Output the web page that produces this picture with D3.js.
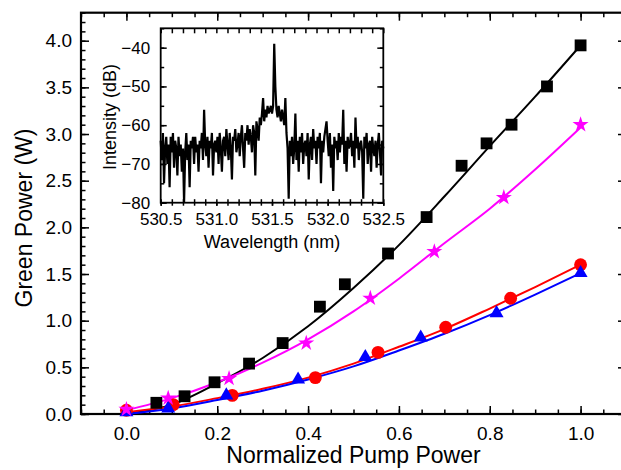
<!DOCTYPE html>
<html>
<head>
<meta charset="utf-8">
<script src="https://cdn.jsdelivr.net/npm/d3@7"></script>
<style>
  body { margin: 0; background: #fff; }
  svg { display: block; font-family: "Liberation Sans", Arial, sans-serif; }
  .tick text { font-family: "Liberation Sans", Arial, sans-serif; }
</style>
</head>
<body>
<svg id="chart" width="621" height="470"></svg>
<script>
// main plot: measured points
const blackX = [0.066, 0.128, 0.194, 0.270, 0.344, 0.426, 0.481, 0.576, 0.661, 0.738, 0.793, 0.848, 0.926, 1.0];
const blackY = [0.12, 0.19, 0.34, 0.54, 0.76, 1.15, 1.39, 1.72, 2.11, 2.66, 2.90, 3.10, 3.51, 3.95];
const magentaX = [0.0, 0.092, 0.226, 0.396, 0.537, 0.678, 0.831, 1.0];
const magentaY = [0.05, 0.17, 0.38, 0.76, 1.24, 1.74, 2.32, 3.10];
const redX = [0.0, 0.103, 0.233, 0.416, 0.554, 0.703, 0.846, 1.0];
const redY = [0.04, 0.10, 0.20, 0.39, 0.66, 0.93, 1.24, 1.60];
const blueX = [0.0, 0.092, 0.22, 0.378, 0.526, 0.648, 0.815, 1.0];
const blueY = [0.02, 0.06, 0.20, 0.37, 0.61, 0.82, 1.08, 1.51];

// fitted curves
const fitX = [0, 0.1, 0.2, 0.3, 0.4, 0.5, 0.6, 0.7, 0.8, 0.9, 1.0];
const blackFit = [0.0, 0.1, 0.33, 0.6, 0.94, 1.35, 1.81, 2.33, 2.87, 3.4, 3.95];
const magentaFit = [0.04, 0.17, 0.34, 0.55, 0.8, 1.1, 1.45, 1.83, 2.2, 2.62, 3.07];
const redFit = [0.02, 0.08, 0.17, 0.27, 0.39, 0.54, 0.72, 0.91, 1.13, 1.36, 1.60];
const blueFit = [0.0, 0.06, 0.15, 0.25, 0.37, 0.51, 0.68, 0.86, 1.06, 1.28, 1.51];

const xTicks = [0.0, 0.2, 0.4, 0.6, 0.8, 1.0];
const yTicks = [0.0, 0.5, 1.0, 1.5, 2.0, 2.5, 3.0, 3.5, 4.0];

// inset spectrum, 530.50 .. 532.50 nm in 0.01 nm steps
const specStart = 530.5, specStep = 0.01;
const specDb = [
  -64,-69,-62,-75,-66,-63,-70,-65,-76,-63,
  -67,-62,-71,-64,-66,-73,-63,-68,-65,-72,
  -66,-80,-67,-62,-69,-65,-76,-64,-66,-63,
  -70,-63,-67,-65,-72,-64,-66,-62,-69,-56,
  -65,-68,-63,-71,-64,-66,-62,-73,-65,-64,
  -67,-63,-70,-62,-66,-72,-64,-63,-68,-61,
  -65,-69,-62,-66,-74,-63,-64,-61,-67,-65,
  -62,-68,-63,-60,-66,-71,-62,-64,-60,-65,
  -61,-63,-67,-60,-62,-73,-59,-61,-64,-58,
  -60,-57,-53,-59,-56,-58,-55,-57,-56,-55,
  -57,-55,-39,-50,-56,-58,-55,-57,-59,-56,
  -58,-60,-53,-62,-66,-79,-64,-68,-63,-70,
  -66,-57,-69,-64,-72,-63,-67,-62,-70,-65,
  -64,-68,-62,-74,-65,-63,-69,-61,-66,-64,
  -70,-63,-66,-62,-75,-64,-67,-63,-61,-59,
  -64,-68,-62,-71,-65,-77,-63,-66,-64,-69,
  -62,-67,-63,-65,-56,-70,-64,-72,-63,-66,
  -65,-62,-68,-64,-71,-58,-66,-63,-69,-65,
  -64,-67,-79,-63,-66,-62,-70,-65,-64,-72,
  -63,-66,-68,-64,-71,-65,-62,-67,-73,-64,
  -66
];
const inXTicks = [530.5, 531.0, 531.5, 532.0, 532.5];
const inYTicks = [-80, -70, -60, -50, -40];

const svg = d3.select("#chart");

const x = d3.scaleLinear().domain([-0.1, 1.1]).range([81, 626]);
const y = d3.scaleLinear().domain([0, 4.3]).range([414, 12.7]);

const xMinor = d3.range(-0.1, 1.101, 0.05).map(v => +v.toFixed(2));
const yMinor = d3.range(0, 4.301, 0.1).map(v => +v.toFixed(1));

function clean(g) { g.select(".domain").remove(); g.selectAll("line").attr("stroke", "#000").attr("stroke-width", 1.5); }

// main axes: minor + major ticks on all four sides, pointing inward
svg.append("g").attr("transform", "translate(0,414)")
   .call(d3.axisBottom(x).tickValues(xMinor).tickSize(-4.5).tickFormat("")).call(clean);
svg.append("g").attr("transform", "translate(0,12.7)")
   .call(d3.axisTop(x).tickValues(xMinor).tickSize(-4.5).tickFormat("")).call(clean);
svg.append("g").attr("transform", "translate(81,0)")
   .call(d3.axisLeft(y).tickValues(yMinor).tickSize(-4.5).tickFormat("")).call(clean);
svg.append("g").attr("transform", "translate(626,0)")
   .call(d3.axisRight(y).tickValues(yMinor).tickSize(-4.5).tickFormat("")).call(clean);

svg.append("g").attr("transform", "translate(0,414)")
   .call(d3.axisBottom(x).tickValues(xTicks).tickSize(-8).tickPadding(12.5).tickFormat(d3.format(".1f")))
   .call(clean).selectAll("text").attr("font-size", 19).attr("fill", "#000");
svg.append("g").attr("transform", "translate(0,12.7)")
   .call(d3.axisTop(x).tickValues(xTicks).tickSize(-8).tickFormat("")).call(clean);
svg.append("g").attr("transform", "translate(81,0)")
   .call(d3.axisLeft(y).tickValues(yTicks).tickSize(-8).tickPadding(9).tickFormat(d3.format(".1f")))
   .call(clean).selectAll("text").attr("font-size", 19).attr("fill", "#000");
svg.append("g").attr("transform", "translate(626,0)")
   .call(d3.axisRight(y).tickValues(yTicks).tickSize(-8).tickFormat("")).call(clean);

svg.append("rect").attr("x", 81).attr("y", 12.7).attr("width", 626 - 81).attr("height", 414 - 12.7)
   .attr("fill", "none").attr("stroke", "#000").attr("stroke-width", 2.2);

// axis titles
svg.append("text").attr("x", 353.5).attr("y", 463).attr("text-anchor", "middle")
   .attr("font-size", 23).text("Normalized Pump Power");
svg.append("text").attr("transform", "translate(32,218) rotate(-90)").attr("text-anchor", "middle")
   .attr("font-size", 23).text("Green Power (W)");

// fit lines
const fitLine = d3.line().x(d => x(d[0])).y(d => y(d[1])).curve(d3.curveMonotoneX);
const series = [
  { fit: blackFit, xs: blackX, ys: blackY, color: "#000000", symbol: d3.symbolSquare, size: 140 },
  { fit: redFit, xs: redX, ys: redY, color: "#ff0000", symbol: d3.symbolCircle, size: 130 },
  { fit: blueFit, xs: blueX, ys: blueY, color: "#0000ff", symbol: d3.symbolTriangle, size: 85 },
  { fit: magentaFit, xs: magentaX, ys: magentaY, color: "#ff00ff", symbol: d3.symbolStar, size: 80 }
];

series.forEach(s => {
  svg.append("path")
     .datum(fitX.map((v, i) => [v, s.fit[i]]))
     .attr("d", fitLine)
     .attr("fill", "none")
     .attr("stroke", s.color)
     .attr("stroke-width", 2);
});
series.forEach(s => {
  svg.append("g").selectAll("path")
     .data(s.xs.map((v, i) => [v, s.ys[i]]))
     .enter()
     .append("path")
     .attr("transform", d => `translate(${x(d[0])},${y(d[1])})`)
     .attr("d", d3.symbol().type(s.symbol).size(s.size))
     .attr("fill", s.color);
});

// inset
const ix = d3.scaleLinear().domain([530.5, 532.5]).range([160.7, 383.3]);
const iy = d3.scaleLinear().domain([-80, -35]).range([202.7, 28.3]);

svg.append("rect").attr("x", 160.7).attr("y", 28.3).attr("width", 383.3 - 160.7).attr("height", 202.7 - 28.3)
   .attr("fill", "#fff");

const specLine = d3.line().x((d, i) => ix(specStart + i * specStep)).y(d => iy(d));
svg.append("path").datum(specDb).attr("d", specLine)
   .attr("fill", "none").attr("stroke", "#000").attr("stroke-width", 2.2)
   .attr("stroke-linejoin", "miter").attr("stroke-miterlimit", 2);

const ixMinor = d3.range(530.5, 532.501, 0.1).map(v => +v.toFixed(1));
const iyMinor = d3.range(-80, -34.9, 5);

svg.append("g").attr("transform", "translate(0,202.7)")
   .call(d3.axisBottom(ix).tickValues(ixMinor).tickSize(3).tickFormat("")).call(clean);
svg.append("g").attr("transform", "translate(0,202.7)")
   .call(d3.axisBottom(ix).tickValues(ixMinor).tickSize(-3.5).tickFormat("")).call(clean);
svg.append("g").attr("transform", "translate(0,28.3)")
   .call(d3.axisTop(ix).tickValues(ixMinor).tickSize(-5).tickFormat("")).call(clean);
svg.append("g").attr("transform", "translate(160.7,0)")
   .call(d3.axisLeft(iy).tickValues(iyMinor).tickSize(-3.5).tickFormat("")).call(clean);
svg.append("g").attr("transform", "translate(383.3,0)")
   .call(d3.axisRight(iy).tickValues(iyMinor).tickSize(-3.5).tickFormat("")).call(clean);

svg.append("g").attr("transform", "translate(0,202.7)")
   .call(d3.axisBottom(ix).tickValues(inXTicks).tickSize(3).tickPadding(7.5).tickFormat(d3.format(".1f")))
   .call(clean).selectAll("text").attr("font-size", 17).attr("fill", "#000");
svg.append("g").attr("transform", "translate(160.7,0)")
   .call(d3.axisLeft(iy).tickValues(inYTicks).tickSize(-6).tickPadding(10.5))
   .call(clean).selectAll("text").attr("font-size", 17).attr("fill", "#000");
svg.append("g").attr("transform", "translate(383.3,0)")
   .call(d3.axisRight(iy).tickValues(inYTicks).tickSize(-6).tickFormat("")).call(clean);

svg.append("rect").attr("x", 160.7).attr("y", 28.3).attr("width", 383.3 - 160.7).attr("height", 202.7 - 28.3)
   .attr("fill", "none").attr("stroke", "#000").attr("stroke-width", 1.8);

svg.append("text").attr("x", 272).attr("y", 248).attr("text-anchor", "middle")
   .attr("font-size", 18).text("Wavelength (nm)");
svg.append("text").attr("transform", "translate(116,117) rotate(-90)").attr("text-anchor", "middle")
   .attr("font-size", 18).text("Intensity (dB)");
</script>
</body>
</html>
